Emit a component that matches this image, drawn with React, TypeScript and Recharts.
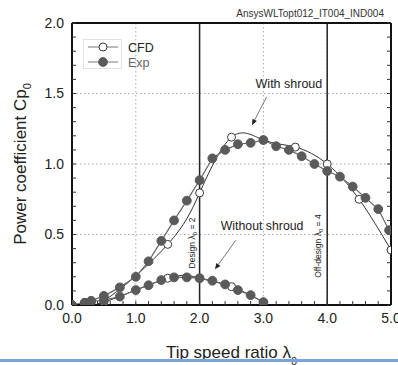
import {
	CartesianGrid,
	Legend,
	Line,
	LineChart,
	ReferenceDot,
	ReferenceLine,
	XAxis,
	YAxis,
} from 'recharts';

// tip speed ratio / power coefficient
const cfdShroudLambda = [0, 0.5, 1.5, 2.0, 2.5, 3.0, 3.5, 4.0, 4.5, 5.0];
const cfdShroudCp = [0, 0.03, 0.43, 0.795, 1.19, 1.17, 1.12, 1.0, 0.75, 0.39];

const expShroudLambda = [
	0, 0.2, 0.3, 0.5, 0.75, 1.0, 1.2, 1.4, 1.6, 1.8, 2.0, 2.2, 2.4, 2.6, 2.8,
	3.0, 3.2, 3.4, 3.6, 3.8, 4.0, 4.2, 4.4, 4.6, 4.8, 4.97,
];
const expShroudCp = [
	0, 0.016, 0.03, 0.065, 0.125, 0.2, 0.31, 0.455, 0.6, 0.74, 0.885, 1.04,
	1.1, 1.14, 1.15, 1.17, 1.126, 1.1, 1.055, 1.0, 0.95, 0.91, 0.84, 0.76, 0.68,
	0.53,
];

const cfdBareLambda = [0, 0.5, 1.5, 2.0, 2.5, 3.0];
const cfdBareCp = [0, 0.02, 0.19, 0.19, 0.13, 0.02];

const expBareLambda = [
	0, 0.2, 0.3, 0.5, 0.75, 1.0, 1.2, 1.4, 1.6, 1.8, 2.0, 2.2, 2.4, 2.6, 2.8, 3.0,
];
const expBareCp = [
	0, 0.015, 0.025, 0.035, 0.06, 0.106, 0.14, 0.177, 0.196, 0.196, 0.19, 0.172,
	0.146, 0.106, 0.07, 0.02,
];

const X_MAX = 5;
const Y_MAX = 2;
const xTicks = [0, 1, 2, 3, 4, 5];
const yTicks = [0, 0.5, 1.0, 1.5, 2.0];
const xMinorTicks = Array.from({ length: 26 }, (_, i) => Math.round(i * 2) / 10);
const yMinorTicks = Array.from({ length: 21 }, (_, i) => i / 10);

const legendItems = [
	{ name: 'CFD', open: true },
	{ name: 'Exp', open: false },
];

const designLines = [
	{ lambda: 2, text: 'Design λ', suffix: ' = 2', at: { x: 1.88, y: 0.44 } },
	{ lambda: 4, text: 'Off-design λ', suffix: ' = 4', at: { x: 3.86, y: 0.418 } },
];

const toPoints = (xs: number[], ys: number[]) =>
	xs.map((lambda, i) => ({ lambda, cp: ys[i] }));

const FONT = '"Liberation Sans", Arial, sans-serif';
const INK = '#222';

const openDot = { r: 4, fill: '#fff', stroke: '#3a3a3a', strokeWidth: 1 };
const fullDot = { r: 4.4, fill: '#5a5a5a', stroke: '#5a5a5a', strokeWidth: 1 };
const frame = { stroke: '#111', strokeWidth: 2 };
const minorLine = { stroke: '#333', strokeWidth: 1 };

const labelIf = (majors: number[]) => (v: number) =>
	majors.some((m) => Math.abs(m - v) < 1e-6) ? v.toFixed(1) : '';
const blank = () => '';

// grid only at the major ticks (axes carry the minor ones)
const gridX = ({ offset }: any) =>
	xTicks.map((t) => offset.left + (offset.width * t) / X_MAX);
const gridY = ({ offset }: any) =>
	yTicks.map((t) => offset.top + offset.height * (1 - t / Y_MAX));

const renderXTitle = (props: any) => {
	const { x, y, width } = props.viewBox;
	return (
		<text
			x={x + width / 2}
			y={y + 53}
			textAnchor='middle'
			fontFamily={FONT}
			fontSize={17}
			fill={INK}
		>
			Tip speed ratio λ
			<tspan dy={7} fontSize={11}>
				0
			</tspan>
		</text>
	);
};

const renderYTitle = (props: any) => {
	const { y, height } = props.viewBox;
	const cx = 26;
	const cy = y + height / 2;
	return (
		<text
			x={cx}
			y={cy}
			textAnchor='middle'
			fontFamily={FONT}
			fontSize={17}
			fill={INK}
			transform={`rotate(-90, ${cx}, ${cy})`}
		>
			Power coefficient Cp
			<tspan dy={5} fontSize={11}>
				0
			</tspan>
		</text>
	);
};

const renderLegend = () => (
	<svg width={80} height={32}>
		<rect x={0.5} y={0.5} width={38} height={29} fill='#fff' stroke='#e2e2e2' />
		{legendItems.map((item, i) => {
			const cy = 8 + i * 15;
			return (
				<g key={item.name}>
					<line x1={5} x2={35} y1={cy} y2={cy} stroke='#777' strokeWidth={1} />
					<circle cx={20} cy={cy} {...(item.open ? openDot : fullDot)} />
					<text
						x={45}
						y={cy + 4.5}
						fontFamily={FONT}
						fontSize={12.5}
						fill={item.open ? INK : '#666'}
					>
						{item.name}
					</text>
				</g>
			);
		})}
	</svg>
);

const Arrow = (props: any) => {
	const { x1, y1, x2, y2 } = props;
	const a = Math.atan2(y2 - y1, x2 - x1);
	const len = 6;
	const w = 2.5;
	const bx = x2 - len * Math.cos(a);
	const by = y2 - len * Math.sin(a);
	const px = -Math.sin(a) * w;
	const py = Math.cos(a) * w;
	return (
		<g>
			<line x1={x1} y1={y1} x2={bx} y2={by} stroke='#555' strokeWidth={0.8} />
			<polygon
				points={`${x2},${y2} ${bx + px},${by + py} ${bx - px},${by - py}`}
				fill='#222'
			/>
		</g>
	);
};

const note = (text: string, size: number) => (p: any) => (
	<text
		x={p.cx}
		y={p.cy}
		textAnchor='middle'
		dominantBaseline='central'
		fontFamily={FONT}
		fontSize={size}
		fill={INK}
	>
		{text}
	</text>
);

const sideNote = (text: string, suffix: string) => (p: any) => (
	<text
		x={p.cx}
		y={p.cy}
		textAnchor='middle'
		dominantBaseline='central'
		fontFamily={FONT}
		fontSize={8.5}
		fill={INK}
		transform={`rotate(-90, ${p.cx}, ${p.cy})`}
	>
		{text}
		<tspan dy={3} fontSize={6}>
			0
		</tspan>
		<tspan dy={-3}>{suffix}</tspan>
	</text>
);

export default function App() {
	return (
		<div
			style={{
				position: 'absolute',
				left: 0,
				top: 0,
				width: 398,
				height: 365,
				background: '#fff',
			}}
		>
			<div
				style={{
					position: 'absolute',
					right: 14,
					top: 8,
					fontFamily: FONT,
					fontSize: 10,
					color: '#333',
					zIndex: 2,
				}}
			>
				AnsysWLTopt012_IT004_IND004
			</div>
			<LineChart
				width={398}
				height={365}
				margin={{ top: 22, right: 6, left: 0, bottom: 0 }}
			>
				<CartesianGrid
					stroke='#aaa'
					strokeDasharray='1.5 2.5'
					strokeWidth={1}
					verticalCoordinatesGenerator={gridX}
					horizontalCoordinatesGenerator={gridY}
				/>
				<XAxis
					dataKey='lambda'
					type='number'
					domain={[0, X_MAX]}
					ticks={xMinorTicks}
					interval={0}
					allowDataOverflow
					height={60}
					axisLine={frame}
					tickSize={-4}
					tickMargin={12}
					tickLine={minorLine}
					tickFormatter={labelIf(xTicks)}
					tick={{ fontFamily: FONT, fontSize: 14, fill: INK }}
					label={renderXTitle}
				/>
				<XAxis
					xAxisId='top'
					orientation='top'
					type='number'
					domain={[0, X_MAX]}
					ticks={xMinorTicks}
					interval={0}
					allowDataOverflow
					height={1}
					axisLine={frame}
					tickSize={-4}
					tickLine={minorLine}
					tickFormatter={blank}
				/>
				<YAxis
					type='number'
					domain={[0, Y_MAX]}
					ticks={yMinorTicks}
					interval={0}
					allowDataOverflow
					width={72}
					axisLine={frame}
					tickSize={-4}
					tickMargin={12}
					tickLine={minorLine}
					tickFormatter={labelIf(yTicks)}
					tick={{ fontFamily: FONT, fontSize: 14, fill: INK }}
					label={renderYTitle}
				/>
				<YAxis
					yAxisId='right'
					orientation='right'
					type='number'
					domain={[0, Y_MAX]}
					ticks={yMinorTicks}
					interval={0}
					allowDataOverflow
					width={1}
					axisLine={frame}
					tickSize={-4}
					tickLine={minorLine}
					tickFormatter={blank}
				/>

				{designLines.map((d) => (
					<ReferenceLine
						key={d.lambda}
						x={d.lambda}
						stroke='#222'
						strokeWidth={1.5}
					/>
				))}
				{designLines.map((d) => (
					<ReferenceDot
						key={`n${d.lambda}`}
						x={d.at.x}
						y={d.at.y}
						r={0}
						shape={sideNote(d.text, d.suffix)}
					/>
				))}

				<Line
					data={toPoints(cfdBareLambda, cfdBareCp)}
					dataKey='cp'
					type='natural'
					stroke='#333'
					strokeWidth={1}
					dot={openDot}
					legendType='none'
					isAnimationActive={false}
				/>
				<Line
					data={toPoints(cfdShroudLambda, cfdShroudCp)}
					dataKey='cp'
					name='CFD'
					type='natural'
					stroke='#333'
					strokeWidth={1}
					dot={openDot}
					isAnimationActive={false}
				/>
				<Line
					data={toPoints(expBareLambda, expBareCp)}
					dataKey='cp'
					type='linear'
					stroke='#666'
					strokeWidth={1.2}
					dot={fullDot}
					legendType='none'
					isAnimationActive={false}
				/>
				<Line
					data={toPoints(expShroudLambda, expShroudCp)}
					dataKey='cp'
					name='Exp'
					type='linear'
					stroke='#666'
					strokeWidth={1.2}
					dot={fullDot}
					isAnimationActive={false}
				/>

				<ReferenceLine
					segment={[
						{ x: 3.05, y: 1.475 },
						{ x: 2.82, y: 1.275 },
					]}
					shape={Arrow}
				/>
				<ReferenceLine
					segment={[
						{ x: 2.57, y: 0.46 },
						{ x: 2.24, y: 0.253 },
					]}
					shape={Arrow}
				/>
				<ReferenceDot x={3.4} y={1.57} r={0} shape={note('With shroud', 12.5)} />
				<ReferenceDot
					x={2.98}
					y={0.56}
					r={0}
					shape={note('Without shroud', 12.3)}
				/>

				<Legend
					content={renderLegend}
					layout='horizontal'
					verticalAlign='middle'
					align='center'
					wrapperStyle={{ top: 39, left: 83, width: 80 }}
				/>
			</LineChart>
			<div
				style={{
					position: 'absolute',
					left: 0,
					top: 359,
					width: 398,
					height: 3,
					background: '#7aa2dc',
				}}
			/>
		</div>
	);
}
